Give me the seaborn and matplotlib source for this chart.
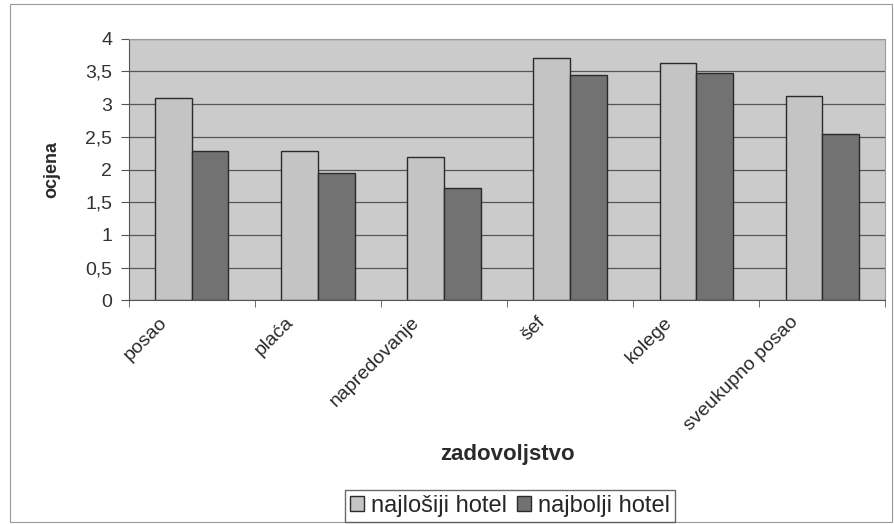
import matplotlib
matplotlib.use("Agg")
import matplotlib.pyplot as plt
import matplotlib.transforms as mtransforms
import seaborn as sns
import pandas as pd
from matplotlib.ticker import FuncFormatter

categories = ["posao", "plaća", "napredovanje", "šef", "kolege", "sveukupno posao"]
najlosiji = [3.10, 2.28, 2.19, 3.71, 3.63, 3.12]
najbolji = [2.28, 1.94, 1.71, 3.44, 3.48, 2.55]
series = ["najlošiji hotel", "najbolji hotel"]

df = pd.DataFrame({
    "kategorija": categories * 2,
    "ocjena": najlosiji + najbolji,
    "hotel": [series[0]] * len(categories) + [series[1]] * len(categories),
})

sns.set_style("white")
plt.rcParams["font.family"] = ["Liberation Sans", "DejaVu Sans"]

fig = plt.figure(figsize=(8.95, 5.24), dpi=100)
ax = fig.add_axes([0.144, 0.427, 0.845, 0.499])
ax.set_facecolor("#cbcbcb")

sns.barplot(data=df, x="kategorija", y="ocjena", hue="hotel", order=categories,
            hue_order=series, palette=["#c4c4c4", "#727272"], width=0.58,
            edgecolor="#2a2a2a", linewidth=1.0, ax=ax, zorder=3)

ax.set_ylim(0, 4)
ax.set_xlim(-0.5, len(categories) - 0.5)
ax.set_yticks([0, 0.5, 1, 1.5, 2, 2.5, 3, 3.5, 4])
ax.yaxis.set_major_formatter(FuncFormatter(lambda v, p: f"{v:g}".replace(".", ",")))
ax.yaxis.grid(True, color="#555555", linewidth=0.9, zorder=0)
ax.set_axisbelow(True)

for s in ["top", "right"]:
    ax.spines[s].set_color("#9a9a9a")
ax.spines["left"].set_color("#555555")
ax.spines["bottom"].set_color("#555555")

ax.set_xticks(range(len(categories)))
ax.set_xticklabels(categories, rotation=45, ha="right", rotation_mode="anchor",
                   fontsize=14, color="#2a2a2a")
ax.tick_params(axis="x", length=0, pad=4)
shift = mtransforms.ScaledTranslation(-0.33, -0.08, fig.dpi_scale_trans)
for lbl in ax.get_xticklabels():
    lbl.set_transform(lbl.get_transform() + shift)
ax.tick_params(axis="y", labelsize=14, colors="#333333", length=6, left=True,
               color="#555555", pad=6)
ax.set_xticks([i + 0.5 for i in range(-1, len(categories))], minor=True)
ax.tick_params(axis="x", which="minor", length=5, bottom=True, color="#555555")

ax.set_ylabel("ocjena", fontsize=13, fontweight="bold", color="#2a2a2a", labelpad=18)
ax.set_xlabel("")
fig.text(0.567, 0.122, "zadovoljstvo", ha="center", fontsize=16,
         fontweight="bold", color="#2a2a2a")

handles, labels = ax.get_legend_handles_labels()
ax.legend_.remove()
fig.legend(handles, labels, loc="center", bbox_to_anchor=(0.57, 0.034), ncol=2,
           frameon=True, fancybox=False, edgecolor="#444444", fontsize=17,
           handlelength=0.6, handleheight=0.6, handletextpad=0.3, columnspacing=0.4,
           borderpad=0.2)

fig.patches.append(plt.Rectangle((0.011, 0.003), 0.986, 0.99, transform=fig.transFigure,
                                 fill=False, edgecolor="#999999", linewidth=0.8))

fig.savefig("out.png", dpi=100)
